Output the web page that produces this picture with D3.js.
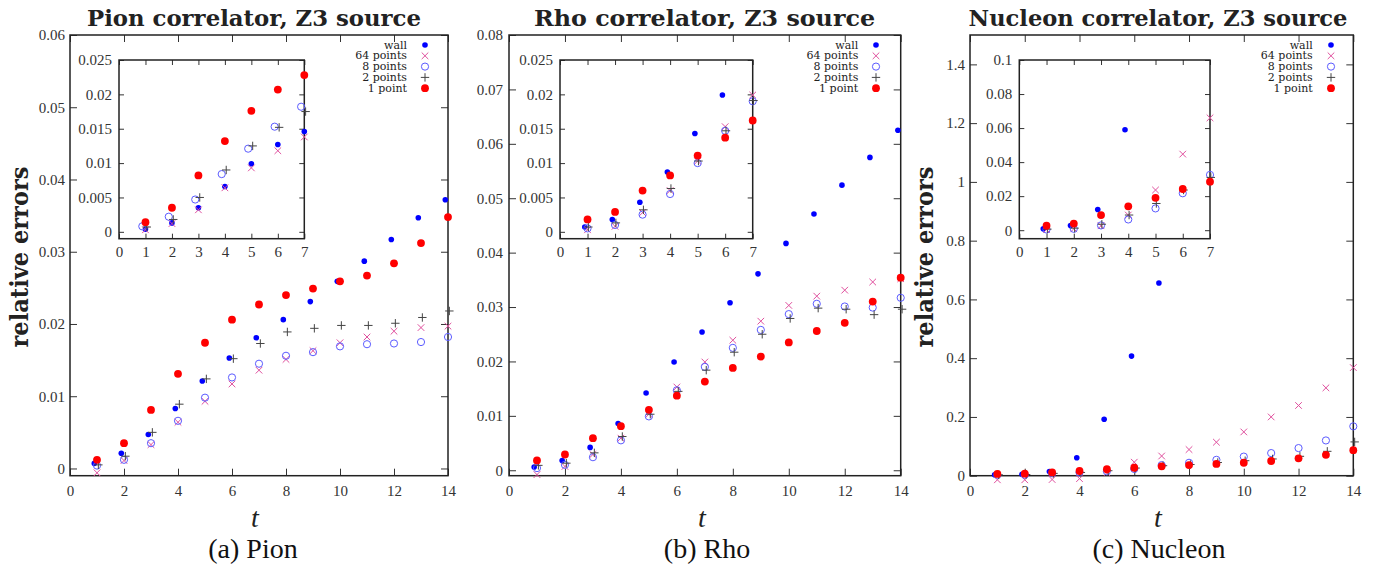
<!DOCTYPE html>
<html>
<head>
<meta charset="utf-8">
<script src="https://cdn.jsdelivr.net/npm/d3@7"></script>
<style>
body { margin: 0; background: #fff; }
</style>
</head>
<body>
<script>
// t values and legend names
const tMain = [1, 2, 3, 4, 5, 6, 7, 8, 9, 10, 11, 12, 13, 14];
const tInset = [1, 2, 3, 4, 5, 6, 7];
const seriesNames = ["wall", "64 points", "8 points", "2 points", "1 point"];

// tick values
const mainXTicks = [0, 2, 4, 6, 8, 10, 12, 14];
const insetXTicks = [0, 1, 2, 3, 4, 5, 6, 7];
const pionYTicks = [0, 0.01, 0.02, 0.03, 0.04, 0.05, 0.06];
const rhoYTicks = [0, 0.01, 0.02, 0.03, 0.04, 0.05, 0.06, 0.07, 0.08];
const nucleonYTicks = [0, 0.2, 0.4, 0.6, 0.8, 1, 1.2, 1.4];
const mesonInsetYTicks = [0, 0.005, 0.01, 0.015, 0.02, 0.025];
const nucleonInsetYTicks = [0, 0.02, 0.04, 0.06, 0.08, 0.1];

// pion
const pionWall = [0.0007, 0.0021, 0.0047, 0.0083, 0.0121, 0.0153, 0.0181, 0.0206, 0.0231, 0.0259, 0.0287, 0.0317, 0.0347, 0.0372];
const pion64 = [-0.0006, 0.0011, 0.0033, 0.0064, 0.0093, 0.0117, 0.0136, 0.0151, 0.0163, 0.0174, 0.0182, 0.0190, 0.0195, 0.0197];
const pion8 = [0.0004, 0.0012, 0.0035, 0.0066, 0.0098, 0.0126, 0.0145, 0.0156, 0.0161, 0.0169, 0.0172, 0.0173, 0.0175, 0.0182];
const pion2 = [0.0005, 0.0017, 0.0050, 0.0089, 0.0124, 0.0152, 0.0173, 0.0189, 0.0194, 0.0198, 0.0198, 0.0201, 0.0209, 0.0218];
const pion1 = [0.0012, 0.0035, 0.0081, 0.0131, 0.0174, 0.0206, 0.0227, 0.0240, 0.0249, 0.0259, 0.0267, 0.0284, 0.0312, 0.0348];
const pionInsetWall = [0.0004, 0.0013, 0.0035, 0.0066, 0.0099, 0.0127, 0.0146];
const pionInset64 = [0.0003, 0.0012, 0.0032, 0.0064, 0.0093, 0.0118, 0.0138];
const pionInset8 = [0.0008, 0.0022, 0.0047, 0.0084, 0.0121, 0.0153, 0.0182];
const pionInset2 = [0.0007, 0.0018, 0.0050, 0.0090, 0.0125, 0.0152, 0.0175];
const pionInset1 = [0.0014, 0.0035, 0.0082, 0.0132, 0.0176, 0.0207, 0.0228];

// rho
const rhoWall = [0.0006, 0.0018, 0.0042, 0.0086, 0.0142, 0.0199, 0.0254, 0.0308, 0.0361, 0.0417, 0.0471, 0.0524, 0.0575, 0.0625];
const rho64 = [-0.0008, 0.0007, 0.0029, 0.0059, 0.0103, 0.0153, 0.0199, 0.0239, 0.0274, 0.0303, 0.0320, 0.0331, 0.0346, 0.0352];
const rho8 = [0.0004, 0.0010, 0.0024, 0.0055, 0.0099, 0.0147, 0.0190, 0.0225, 0.0258, 0.0287, 0.0306, 0.0301, 0.0299, 0.0317];
const rho2 = [0.0009, 0.0013, 0.0032, 0.0062, 0.0103, 0.0145, 0.0184, 0.0217, 0.0250, 0.0279, 0.0298, 0.0296, 0.0286, 0.0296];
const rho1 = [0.0018, 0.0029, 0.0059, 0.0081, 0.0111, 0.0137, 0.0163, 0.0188, 0.0209, 0.0235, 0.0256, 0.0271, 0.0310, 0.0354];
const rhoInsetWall = [0.0007, 0.0018, 0.0043, 0.0087, 0.0143, 0.0199, 0.0254];
const rhoInset64 = [0.0003, 0.0008, 0.0028, 0.0060, 0.0103, 0.0153, 0.0199];
const rhoInset8 = [0.0005, 0.0010, 0.0025, 0.0055, 0.0100, 0.0147, 0.0190];
const rhoInset2 = [0.0007, 0.0013, 0.0032, 0.0063, 0.0103, 0.0147, 0.0191];
const rhoInset1 = [0.0018, 0.0029, 0.0060, 0.0082, 0.0111, 0.0137, 0.0162];

// nucleon
const nucleonWall = [0.003, 0.005, 0.014, 0.061, 0.192, 0.407, 0.656];
const nucleon64 = [-0.014, -0.014, -0.013, -0.010, 0.010, 0.046, 0.067, 0.089, 0.114, 0.149, 0.200, 0.239, 0.299, 0.368];
const nucleon8 = [0.003, 0.003, 0.008, 0.011, 0.015, 0.023, 0.036, 0.044, 0.054, 0.065, 0.077, 0.094, 0.120, 0.168];
const nucleon2 = [0.003, 0.004, 0.008, 0.011, 0.017, 0.026, 0.034, 0.038, 0.045, 0.051, 0.057, 0.066, 0.083, 0.115];
const nucleon1 = [0.006, 0.007, 0.011, 0.016, 0.022, 0.027, 0.032, 0.036, 0.040, 0.044, 0.050, 0.059, 0.071, 0.087];
const nucleonInsetWall = [0.0008, 0.0028, 0.0122, 0.059, 0.192, 0.407, 0.656];
const nucleonInset64 = [0.0004, 0.0008, 0.0026, 0.0089, 0.0236, 0.0447, 0.0660];
const nucleonInset8 = [0.0004, 0.0008, 0.0028, 0.0063, 0.0128, 0.0217, 0.0325];
const nucleonInset2 = [0.0006, 0.0012, 0.0035, 0.0089, 0.0157, 0.0236, 0.0310];
const nucleonInset1 = [0.0026, 0.0039, 0.0089, 0.0140, 0.0190, 0.0242, 0.0285];

// marker look per series, same order as seriesNames
var markerStyle = [
  { kind: "dot", color: "#0000ff", r: 2.8 },
  { kind: "cross", color: "#e0509e", r: 3.3 },
  { kind: "ring", color: "#5b5bff", r: 3.6 },
  { kind: "plus", color: "#444", r: 4.2 },
  { kind: "dot", color: "#ff0000", r: 3.9 }
];

var serif = "'DejaVu Serif', serif";
var times = "'Liberation Serif', serif";
var fmt = d3.format("~g");

var svg = d3.select("body").append("svg")
  .attr("width", 1380)
  .attr("height", 567)
  .style("background", "#fff");

function marker(g, st, x, y) {
  if (st.kind == "dot") {
    g.append("circle").attr("cx", x).attr("cy", y).attr("r", st.r).attr("fill", st.color);
  } else if (st.kind == "ring") {
    g.append("circle").attr("cx", x).attr("cy", y).attr("r", st.r)
      .attr("fill", "none").attr("stroke", st.color).attr("stroke-width", 1);
  } else if (st.kind == "cross") {
    var r = st.r;
    g.append("path")
      .attr("d", "M" + (x - r) + "," + (y - r) + "L" + (x + r) + "," + (y + r) +
                 "M" + (x - r) + "," + (y + r) + "L" + (x + r) + "," + (y - r))
      .attr("stroke", st.color).attr("stroke-width", 1);
  } else {
    var r = st.r;
    g.append("path")
      .attr("d", "M" + (x - r) + "," + y + "L" + (x + r) + "," + y +
                 "M" + x + "," + (y - r) + "L" + x + "," + (y + r))
      .attr("stroke", st.color).attr("stroke-width", 1);
  }
}

// one framed box with mirrored inward ticks and the points
function drawBox(box, series, ts, clip) {
  var x = d3.scaleLinear().domain(box.xDomain).range([box.x0, box.x1]);
  var y = d3.scaleLinear().domain(box.yDomain).range([box.y1, box.y0]);
  var tick = box.tick;

  var g = svg.append("g");
  if (box.fill) {
    g.append("rect").attr("x", box.x0).attr("y", box.y0)
      .attr("width", box.x1 - box.x0).attr("height", box.y1 - box.y0)
      .attr("fill", "#fff");
  }

  var axes = [
    d3.axisLeft(y).tickValues(box.yTicks).tickFormat(fmt).tickPadding(box.yPad),
    d3.axisRight(y).tickValues(box.yTicks).tickFormat(""),
    d3.axisBottom(x).tickValues(box.xTicks).tickFormat(fmt).tickPadding(box.xPad),
    d3.axisTop(x).tickValues(box.xTicks).tickFormat("")
  ];
  var shifts = ["translate(" + box.x0 + ",0)", "translate(" + box.x1 + ",0)",
                "translate(0," + box.y1 + ")", "translate(0," + box.y0 + ")"];
  axes.forEach(function(ax, i) {
    var a = g.append("g").attr("transform", shifts[i])
      .call(ax.tickSizeInner(-tick).tickSizeOuter(0));
    a.select(".domain").remove();
    a.selectAll("line").attr("stroke", "#333").attr("stroke-width", 1);
    a.selectAll("text").attr("fill", "#333")
      .style("font-family", times).style("font-size", box.fontSize + "px");
  });

  g.append("rect").attr("x", box.x0).attr("y", box.y0)
    .attr("width", box.x1 - box.x0).attr("height", box.y1 - box.y0)
    .attr("fill", "none").attr("stroke", "#222").attr("stroke-width", 1.5);

  series.forEach(function(vals, i) {
    var sg = g.append("g");
    vals.forEach(function(v, j) {
      if (clip && (v < box.yDomain[0] || v > box.yDomain[1])) return;
      marker(sg, markerStyle[i], x(ts[j] + box.offsets[i]), y(v));
    });
  });
}

function drawPanel(p) {
  drawBox(p.main, p.mainSeries, tMain, false);
  drawBox(p.inset, p.insetSeries, tInset, true);

  // legend
  seriesNames.forEach(function(name, i) {
    var ly = p.legend.y + i * 10.8;
    svg.append("text").attr("x", p.legend.textX).attr("y", ly).attr("dy", "0.32em")
      .attr("text-anchor", "end").attr("fill", "#222")
      .style("font-family", serif).style("font-size", "11px").text(name);
    marker(svg, markerStyle[i], p.legend.markX, ly);
  });

  svg.append("text").attr("x", p.title.x).attr("y", 26).attr("text-anchor", "middle")
    .attr("textLength", p.title.w).attr("lengthAdjust", "spacingAndGlyphs")
    .attr("fill", "#222").style("font-family", serif).style("font-weight", "bold")
    .style("font-size", "23px").text(p.title.text);

  svg.append("text").attr("x", p.main.cx).attr("y", 527).attr("text-anchor", "middle")
    .attr("fill", "#222").style("font-family", times)
    .style("font-style", "italic").style("font-size", "28px").text("t");

  svg.append("text").attr("x", p.caption.x).attr("y", 558).attr("text-anchor", "middle")
    .attr("fill", "#111").style("font-family", times)
    .style("font-size", "28px").text(p.caption.text);

  if (p.ylabelX) {
    svg.append("text")
      .attr("transform", "translate(" + p.ylabelX + ",257) rotate(-90)")
      .attr("text-anchor", "middle").attr("textLength", 181).attr("lengthAdjust", "spacingAndGlyphs")
      .attr("fill", "#222").style("font-family", serif).style("font-weight", "bold")
      .style("font-size", "24px").text("relative errors");
  }
}

var mainOffsets = [-0.1, 0, 0, 0.05, 0];

drawPanel({
  main: { x0: 70, x1: 448, y0: 35, y1: 475.7, cx: 255, xDomain: [0, 14], yDomain: [-0.001, 0.06],
          xTicks: mainXTicks, yTicks: pionYTicks, tick: 7, xPad: 10, yPad: 5, fontSize: 15,
          offsets: mainOffsets },
  inset: { x0: 119, x1: 304.3, y0: 60, y1: 238.7, xDomain: [0, 7], yDomain: [-0.001, 0.025],
           xTicks: insetXTicks, yTicks: mesonInsetYTicks, tick: 5, xPad: 8, yPad: 7, fontSize: 15,
           offsets: [0, 0, -0.12, 0.05, 0], fill: true },
  mainSeries: [pionWall, pion64, pion8, pion2, pion1],
  insetSeries: [pionInsetWall, pionInset64, pionInset8, pionInset2, pionInset1],
  legend: { textX: 407, markX: 425, y: 45 },
  title: { x: 254, w: 334, text: "Pion correlator, Z3 source" },
  caption: { x: 253, text: "(a) Pion" },
  ylabelX: 28
});

drawPanel({
  main: { x0: 509, x1: 900.7, y0: 35, y1: 475.7, cx: 702, xDomain: [0, 14], yDomain: [-0.001, 0.08],
          xTicks: mainXTicks, yTicks: rhoYTicks, tick: 7, xPad: 10, yPad: 6, fontSize: 15,
          offsets: mainOffsets },
  inset: { x0: 560, x1: 752.7, y0: 60, y1: 238.7, xDomain: [0, 7], yDomain: [-0.001, 0.025],
           xTicks: insetXTicks, yTicks: mesonInsetYTicks, tick: 5, xPad: 8, yPad: 7, fontSize: 15,
           offsets: [-0.1, 0, 0, 0.03, 0], fill: true },
  mainSeries: [rhoWall, rho64, rho8, rho2, rho1],
  insetSeries: [rhoInsetWall, rhoInset64, rhoInset8, rhoInset2, rhoInset1],
  legend: { textX: 858.3, markX: 876, y: 45 },
  title: { x: 704.5, w: 341, text: "Rho correlator, Z3 source" },
  caption: { x: 707, text: "(b) Rho" },
  ylabelX: null
});

drawPanel({
  main: { x0: 970, x1: 1353.3, y0: 35, y1: 475.7, cx: 1158, xDomain: [0, 14], yDomain: [0, 1.5],
          xTicks: mainXTicks, yTicks: nucleonYTicks, tick: 7, xPad: 10, yPad: 5, fontSize: 15,
          offsets: mainOffsets },
  inset: { x0: 1019.3, x1: 1210, y0: 60, y1: 238.7, xDomain: [0, 7], yDomain: [-0.005, 0.1],
           xTicks: insetXTicks, yTicks: nucleonInsetYTicks, tick: 5, xPad: 8, yPad: 7, fontSize: 15,
           offsets: [-0.12, 0, 0, 0.03, 0], fill: true },
  mainSeries: [nucleonWall, nucleon64, nucleon8, nucleon2, nucleon1],
  insetSeries: [nucleonInsetWall, nucleonInset64, nucleonInset8, nucleonInset2, nucleonInset1],
  legend: { textX: 1312.7, markX: 1331, y: 45 },
  title: { x: 1158, w: 379, text: "Nucleon correlator, Z3 source" },
  caption: { x: 1159, text: "(c) Nucleon" },
  ylabelX: 933
});
</script>
</body>
</html>
